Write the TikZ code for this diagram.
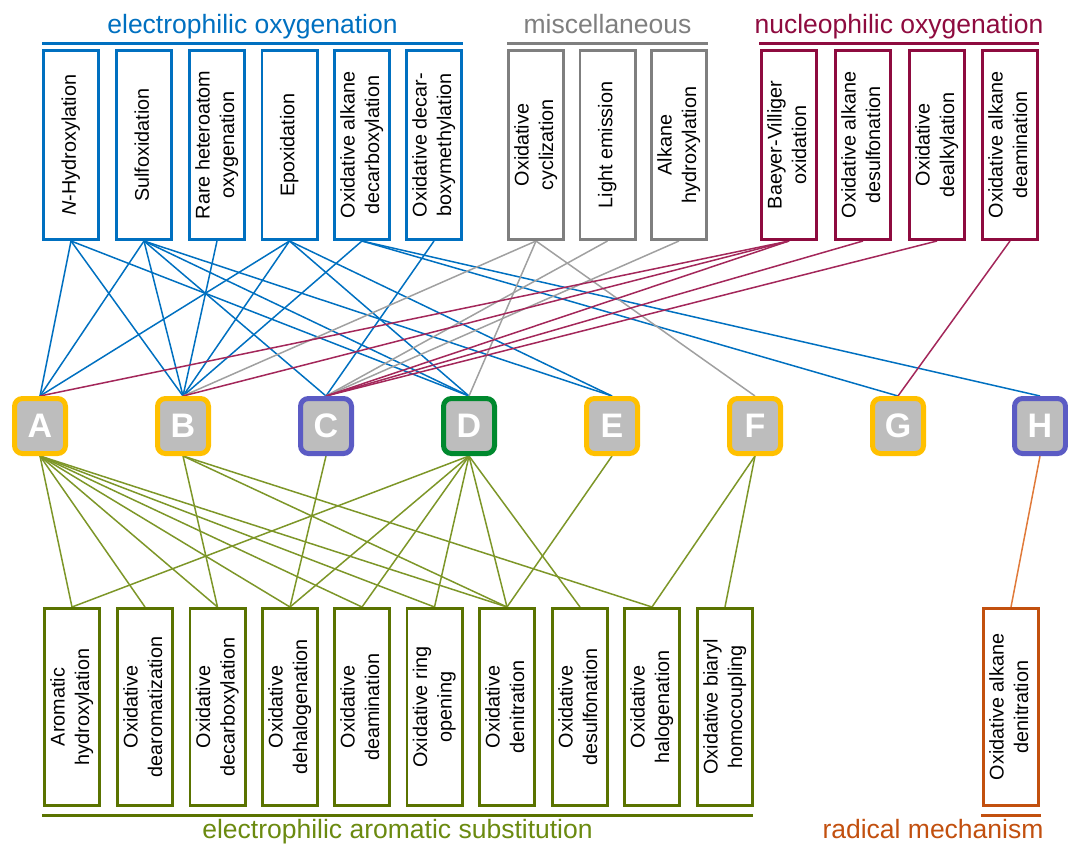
\documentclass[tikz,border=0pt]{standalone}
\usepackage{fontspec}
\setmainfont{Liberation Sans}
\usepackage{graphicx}
\usetikzlibrary{backgrounds}
\definecolor{cblue}{HTML}{0070C0}
\definecolor{cgray}{HTML}{7F7F7F}
\definecolor{cgrayl}{HTML}{A0A0A0}
\definecolor{cred}{HTML}{8E0B3F}
\definecolor{credl}{HTML}{A3275A}
\definecolor{cgreen}{HTML}{5A7300}
\definecolor{cgreenl}{HTML}{7D9628}
\definecolor{cgreent}{HTML}{6B8A10}
\definecolor{corange}{HTML}{C2500F}
\definecolor{corangel}{HTML}{E07A3A}
\definecolor{lfill}{HTML}{BDBDBD}
\definecolor{lyellow}{HTML}{FFC000}
\definecolor{lviolet}{HTML}{5B5BC4}
\definecolor{lgreen}{HTML}{00892E}
\newcommand{\boxfont}{\fontsize{19.8}{24.5}\selectfont}
\newcommand{\titfont}{\fontsize{26.5}{30}\selectfont}
\newcommand{\letfont}{\fontsize{34}{36}\selectfont\bfseries}
\newcommand{\vtext}[1]{\rotatebox{90}{\begin{tabular}{@{}c@{}}#1\end{tabular}}}
\begin{document}
\begin{tikzpicture}[x=1pt,y=-1pt,
  catbox/.style={draw=#1, line width=2.6pt, fill=white, minimum width=55.4pt, minimum height=189.4pt, inner sep=0pt, font=\boxfont},
  lowbox/.style={draw=#1, line width=2.6pt, fill=white, minimum width=55.4pt, minimum height=197.4pt, inner sep=0pt, font=\boxfont},
  letbox/.style={draw=#1, line width=5pt, fill=lfill, rounded corners=8pt, minimum width=51pt, minimum height=55pt, inner sep=0pt, text=white, font=\letfont},
  tit/.style={font=\titfont, text=#1, anchor=base, inner sep=0pt},
  bl/.style={cblue, line width=1.5pt},
  gl/.style={cgrayl, line width=1.5pt},
  rl/.style={credl, line width=1.5pt},
  vl/.style={cgreenl, line width=1.5pt},
  ol/.style={corangel, line width=1.5pt},
  bar/.style={line width=3pt}]
\useasboundingbox (0,0) rectangle (1068,844);
% titles
\node[tit=cblue] (tEO) at (252.5,33) {electrophilic oxygenation};
\node[tit=cgray] (tMI) at (607.5,33) {miscellaneous};
\node[tit=cred] (tNO) at (899,33) {nucleophilic oxygenation};
\node[tit=cgreent] (tEA) at (397.5,838) {electrophilic aromatic substitution};
\node[tit=corange] (tRM) at (933,838) {radical mechanism};
\draw[bar, cblue] (42,43) -- (463,43);
\draw[bar, cgray] (507,43) -- (708,43);
\draw[bar, cred] (759,43) -- (1039,43);
\draw[bar, cgreen] (42,815.5) -- (753,815.5);
\draw[bar, corange] (981,815.5) -- (1041,815.5);
% top boxes
\node[catbox=cblue] (t1) at (71,145) {\vtext{\textit{N}-Hydroxylation}};
\node[catbox=cblue] (t2) at (144,145) {\vtext{Sulfoxidation}};
\node[catbox=cblue] (t3) at (217,145) {\vtext{Rare heteroatom\\oxygenation}};
\node[catbox=cblue] (t4) at (289.5,145) {\vtext{Epoxidation}};
\node[catbox=cblue] (t5) at (362,145) {\vtext{Oxidative alkane\\decarboxylation}};
\node[catbox=cblue] (t6) at (434,145) {\vtext{Oxidative decar-\\boxymethylation}};
\node[catbox=cgray] (m1) at (536,145) {\vtext{Oxidative\\cyclization}};
\node[catbox=cgray] (m2) at (607.5,145) {\vtext{Light emission}};
\node[catbox=cgray] (m3) at (679,145) {\vtext{Alkane\\hydroxylation}};
\node[catbox=cred] (n1) at (789,145) {\vtext{Baeyer-Villiger\\oxidation}};
\node[catbox=cred] (n2) at (863,145) {\vtext{Oxidative alkane\\desulfonation}};
\node[catbox=cred] (n3) at (937,145) {\vtext{Oxidative\\dealkylation}};
\node[catbox=cred] (n4) at (1010,145) {\vtext{Oxidative alkane\\deamination}};
% letters
\node[letbox=lyellow] (A) at (40,426) {A};
\node[letbox=lyellow] (B) at (183,426) {B};
\node[letbox=lviolet] (C) at (326,426) {C};
\node[letbox=lgreen] (D) at (469,426) {D};
\node[letbox=lyellow] (E) at (612,426) {E};
\node[letbox=lyellow] (F) at (755,426) {F};
\node[letbox=lyellow] (G) at (898,426) {G};
\node[letbox=lviolet] (H) at (1040,426) {H};
% bottom boxes
\node[lowbox=cgreen] (b1) at (72,707) {\vtext{Aromatic\\hydroxylation}};
\node[lowbox=cgreen] (b2) at (145,707) {\vtext{Oxidative\\dearomatization}};
\node[lowbox=cgreen] (b3) at (217.5,707) {\vtext{Oxidative\\decarboxylation}};
\node[lowbox=cgreen] (b4) at (290,707) {\vtext{Oxidative\\dehalogenation}};
\node[lowbox=cgreen] (b5) at (362,707) {\vtext{Oxidative\\deamination}};
\node[lowbox=cgreen] (b6) at (434.5,707) {\vtext{Oxidative ring\\opening}};
\node[lowbox=cgreen] (b7) at (507,707) {\vtext{Oxidative\\denitration}};
\node[lowbox=cgreen] (b8) at (580,707) {\vtext{Oxidative\\desulfonation}};
\node[lowbox=cgreen] (b9) at (652,707) {\vtext{Oxidative\\halogenation}};
\node[lowbox=cgreen] (b10) at (725,707) {\vtext{Oxidative biaryl\\homocoupling}};
\node[lowbox=corange] (r1) at (1011,707) {\vtext{Oxidative alkane\\denitration}};
% connectors
\begin{scope}[on background layer]
\foreach \s/\t in {t1/A,t1/B,t1/D,t2/A,t2/B,t2/C,t2/D,t2/E,t3/B,t4/A,t4/B,t4/D,t4/E,t5/B,t5/G,t5/H,t6/C}
  \draw[bl] (\s.south) -- (\t.north);
\foreach \s/\t in {m1/B,m1/D,m1/F,m2/C,m3/C}
  \draw[gl] (\s.south) -- (\t.north);
\foreach \s/\t in {n1/A,n1/B,n1/C,n2/C,n3/C,n4/G}
  \draw[rl] (\s.south) -- (\t.north);
\foreach \s/\t in {A/b1,A/b2,A/b3,A/b4,A/b5,A/b6,A/b7,B/b3,B/b7,B/b9,C/b4,D/b1,D/b4,D/b5,D/b6,D/b7,D/b8,E/b7,F/b9,F/b10}
  \draw[vl] (\s.south) -- (\t.north);
\draw[ol] (H.south) -- (r1.north);
\end{scope}
\end{tikzpicture}
\end{document}
